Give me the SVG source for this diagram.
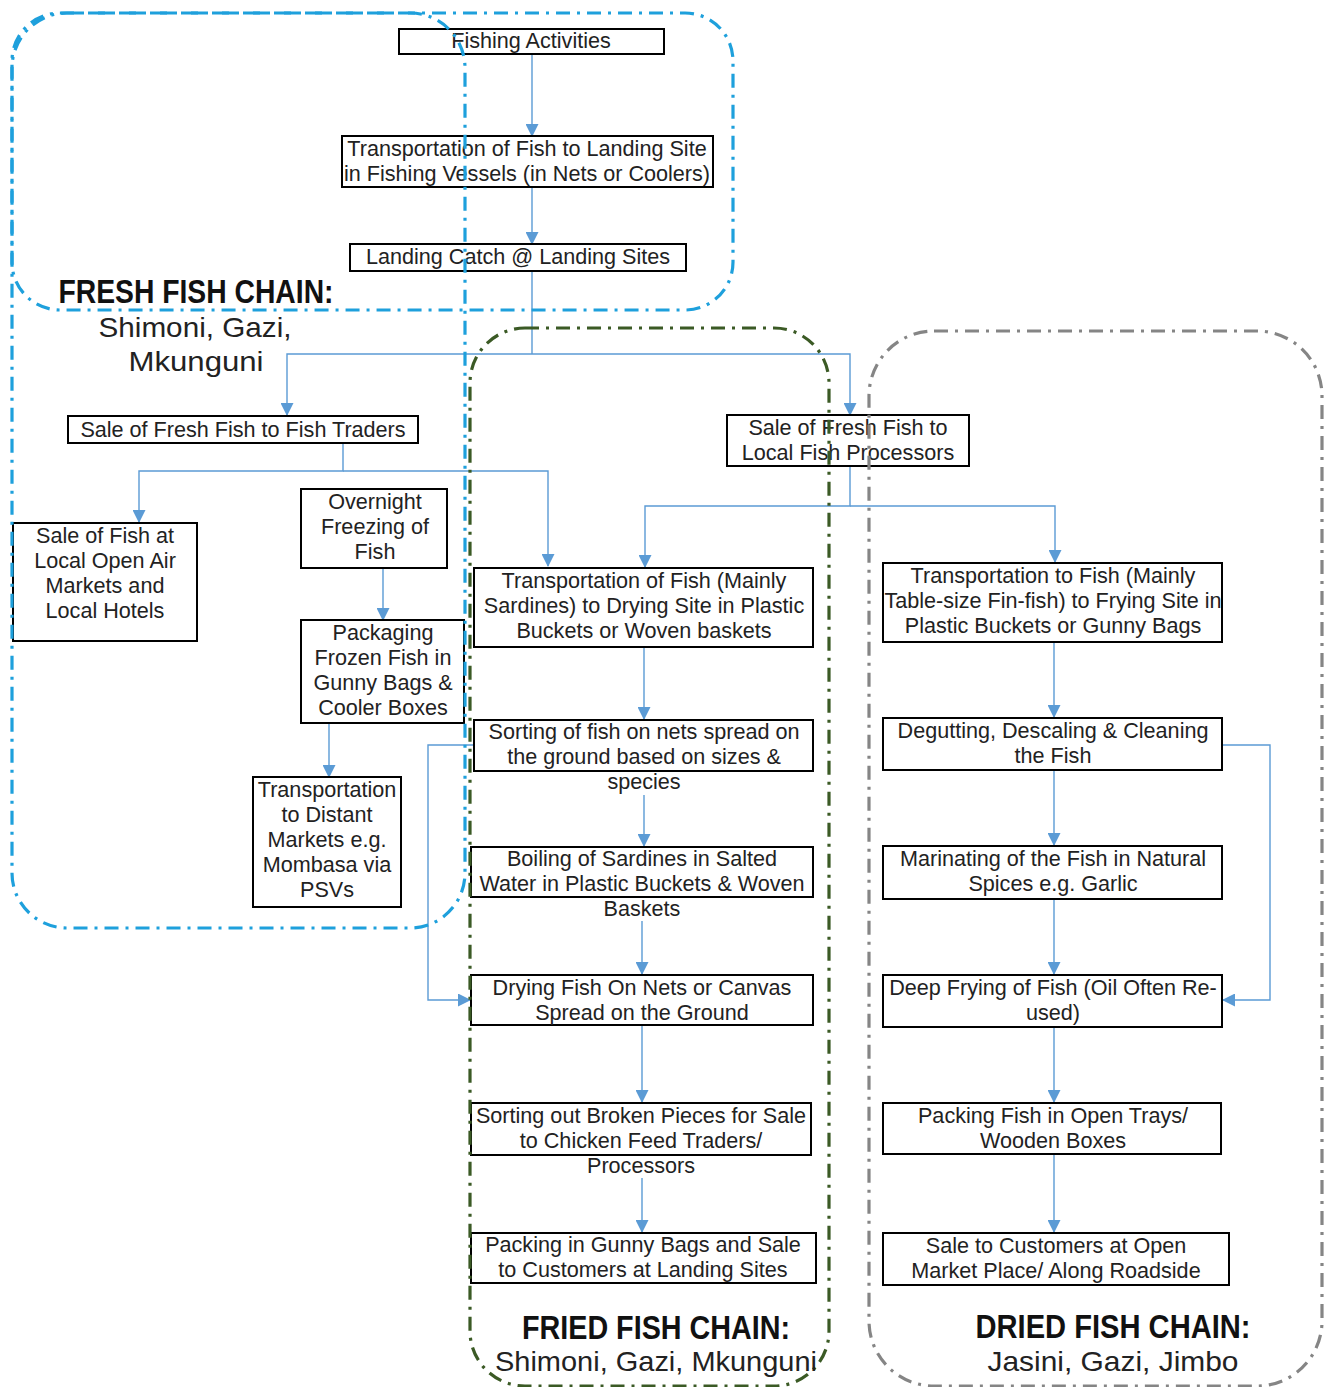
<svg xmlns="http://www.w3.org/2000/svg" width="1328" height="1387" viewBox="0 0 1328 1387">
<defs>
<marker id="ah" markerUnits="userSpaceOnUse" markerWidth="13" markerHeight="13" refX="12" refY="6.5" orient="auto" viewBox="0 0 13 13">
<path d="M0,0 L13,6.5 L0,13 z" fill="#5b9bd5"/>
</marker>
<style>
.box{fill:#fff;stroke:#000;stroke-width:2}
.t{font-family:"Liberation Sans",Arial,sans-serif;font-size:21.6px;fill:#222;text-anchor:middle}
.c{fill:none;stroke:#5b9bd5;stroke-width:1.4}
.a{marker-end:url(#ah)}
.reg{fill:none;stroke-width:3.2;stroke-dasharray:14 7 3 7}
.lb{font-family:"Liberation Sans",Arial,sans-serif;font-weight:bold;font-size:34px;fill:#111;text-anchor:middle}
.ll{font-family:"Liberation Sans",Arial,sans-serif;font-size:28px;fill:#222;text-anchor:middle}
</style>
</defs>
<rect width="1328" height="1387" fill="#fff"/>

<g id="connectors">
<path class="c a" d="M532,54 V136"/>
<path class="c a" d="M532,187 V244"/>
<path class="c" d="M532,271 V354"/>
<path class="c a" d="M532,354 H287 V415"/>
<path class="c a" d="M532,354 H850 V415"/>
<path class="c a" d="M343,443 V471 H139 V522"/>
<path class="c a" d="M343,471 H548 V566"/>
<path class="c a" d="M850,466 V506 H645 V567"/>
<path class="c a" d="M850,506 H1055 V562"/>
<path class="c a" d="M383,568 V620"/>
<path class="c a" d="M329,723 V777"/>
<path class="c a" d="M644,647 V719"/>
<path class="c a" d="M644,795 V846"/>
<path class="c a" d="M642,921 V974"/>
<path class="c a" d="M642,1025 V1102"/>
<path class="c a" d="M642,1178 V1232"/>
<path class="c a" d="M474,745 H428 V1000 H470"/>
<path class="c a" d="M1054,642 V717"/>
<path class="c a" d="M1054,770 V845"/>
<path class="c a" d="M1054,899 V974"/>
<path class="c a" d="M1054,1027 V1102"/>
<path class="c a" d="M1054,1154 V1232"/>
<path class="c a" d="M1222,745 H1270 V1000 H1223"/>
</g>

<g id="n1"><rect class="box" x="399" y="29" width="265" height="25"/><text class="t" x="531" y="48">Fishing Activities</text></g>
<g id="n2"><rect class="box" x="342" y="136" width="371" height="51"/><text class="t" x="527" y="156">Transportation of Fish to Landing Site</text><text class="t" x="527" y="181">in Fishing Vessels (in Nets or Coolers)</text></g>
<g id="n3"><rect class="box" x="350" y="244" width="336" height="27"/><text class="t" x="518" y="264">Landing Catch @ Landing Sites</text></g>
<g id="n4"><rect class="box" x="68" y="416" width="350" height="27"/><text class="t" x="243" y="437">Sale of Fresh Fish to Fish Traders</text></g>
<g id="n5"><rect class="box" x="727" y="415" width="242" height="51"/><text class="t" x="848" y="435">Sale of Fresh Fish to</text><text class="t" x="848" y="460">Local Fish Processors</text></g>
<g id="n6"><rect class="box" x="13" y="523" width="184" height="118"/><text class="t" x="105" y="543">Sale of Fish at</text><text class="t" x="105" y="568">Local Open Air</text><text class="t" x="105" y="593">Markets and</text><text class="t" x="105" y="618">Local Hotels</text></g>
<g id="n7"><rect class="box" x="301" y="489" width="146" height="79"/><text class="t" x="375" y="509">Overnight</text><text class="t" x="375" y="534">Freezing of</text><text class="t" x="375" y="559">Fish</text></g>
<g id="n8"><rect class="box" x="301" y="620" width="163" height="103"/><text class="t" x="383" y="640">Packaging</text><text class="t" x="383" y="665">Frozen Fish in</text><text class="t" x="383" y="690">Gunny Bags &amp;</text><text class="t" x="383" y="715">Cooler Boxes</text></g>
<g id="n9"><rect class="box" x="253" y="777" width="148" height="130"/><text class="t" x="327" y="797">Transportation</text><text class="t" x="327" y="822">to Distant</text><text class="t" x="327" y="847">Markets e.g.</text><text class="t" x="327" y="872">Mombasa via</text><text class="t" x="327" y="897">PSVs</text></g>

<g id="n10"><rect class="box" x="474" y="568" width="339" height="79"/><text class="t" x="644" y="588">Transportation of Fish (Mainly</text><text class="t" x="644" y="613">Sardines) to Drying Site in Plastic</text><text class="t" x="644" y="638">Buckets or Woven baskets</text></g>
<g id="n11"><rect class="box" x="474" y="720" width="339" height="51"/><text class="t" x="644" y="739">Sorting of fish on nets spread on</text><text class="t" x="644" y="764">the ground based on sizes &amp;</text><text class="t" x="644" y="789">species</text></g>
<g id="n12"><rect class="box" x="471" y="847" width="342" height="50"/><text class="t" x="642" y="866">Boiling of Sardines in Salted</text><text class="t" x="642" y="891">Water in Plastic Buckets &amp; Woven</text><text class="t" x="642" y="916">Baskets</text></g>
<g id="n13"><rect class="box" x="471" y="975" width="342" height="50"/><text class="t" x="642" y="995">Drying Fish On Nets or Canvas</text><text class="t" x="642" y="1020">Spread on the Ground</text></g>
<g id="n14"><rect class="box" x="471" y="1103" width="340" height="52"/><text class="t" x="641" y="1123">Sorting out Broken Pieces for Sale</text><text class="t" x="641" y="1148">to Chicken Feed Traders/</text><text class="t" x="641" y="1173">Processors</text></g>
<g id="n15"><rect class="box" x="471" y="1233" width="345" height="50"/><text class="t" x="643" y="1252">Packing in Gunny Bags and Sale</text><text class="t" x="643" y="1277">to Customers at Landing Sites</text></g>

<g id="n16"><rect class="box" x="883" y="563" width="339" height="79"/><text class="t" x="1053" y="583">Transportation to Fish (Mainly</text><text class="t" x="1053" y="608">Table-size Fin-fish) to Frying Site in</text><text class="t" x="1053" y="633">Plastic Buckets or Gunny Bags</text></g>
<g id="n17"><rect class="box" x="883" y="718" width="339" height="52"/><text class="t" x="1053" y="738">Degutting, Descaling &amp; Cleaning</text><text class="t" x="1053" y="763">the Fish</text></g>
<g id="n18"><rect class="box" x="883" y="846" width="339" height="53"/><text class="t" x="1053" y="866">Marinating of the Fish in Natural</text><text class="t" x="1053" y="891">Spices e.g. Garlic</text></g>
<g id="n19"><rect class="box" x="883" y="975" width="339" height="52"/><text class="t" x="1053" y="995">Deep Frying of Fish (Oil Often Re-</text><text class="t" x="1053" y="1020">used)</text></g>
<g id="n20"><rect class="box" x="883" y="1103" width="338" height="51"/><text class="t" x="1053" y="1123">Packing Fish in Open Trays/</text><text class="t" x="1053" y="1148">Wooden Boxes</text></g>
<g id="n21"><rect class="box" x="883" y="1233" width="346" height="52"/><text class="t" x="1056" y="1253">Sale to Customers at Open</text><text class="t" x="1056" y="1278">Market Place/ Along Roadside</text></g>

<g id="regions">
<rect class="reg" x="12" y="13" width="721" height="297" rx="48" stroke="#1ea0dc"/>
<rect class="reg" x="12" y="13" width="453" height="915" rx="55" stroke="#1ea0dc"/>
<rect class="reg" x="470" y="328" width="359" height="1058" rx="55" stroke="#3b5a25"/>
<rect class="reg" x="869" y="331" width="453" height="1055" rx="65" stroke="#858585"/>
</g>

<g id="labels">
<text class="lb" x="196" y="303" textLength="275" lengthAdjust="spacingAndGlyphs">FRESH FISH CHAIN:</text>
<text class="ll" x="195" y="337" textLength="193" lengthAdjust="spacingAndGlyphs">Shimoni, Gazi,</text>
<text class="ll" x="196" y="371" textLength="135" lengthAdjust="spacingAndGlyphs">Mkunguni</text>
<text class="lb" x="656" y="1339" textLength="268" lengthAdjust="spacingAndGlyphs">FRIED FISH CHAIN:</text>
<text class="ll" x="656" y="1371" textLength="322" lengthAdjust="spacingAndGlyphs">Shimoni, Gazi, Mkunguni</text>
<text class="lb" x="1113" y="1338" textLength="275" lengthAdjust="spacingAndGlyphs">DRIED FISH CHAIN:</text>
<text class="ll" x="1113" y="1371" textLength="251" lengthAdjust="spacingAndGlyphs">Jasini, Gazi, Jimbo</text>
</g>
</svg>
